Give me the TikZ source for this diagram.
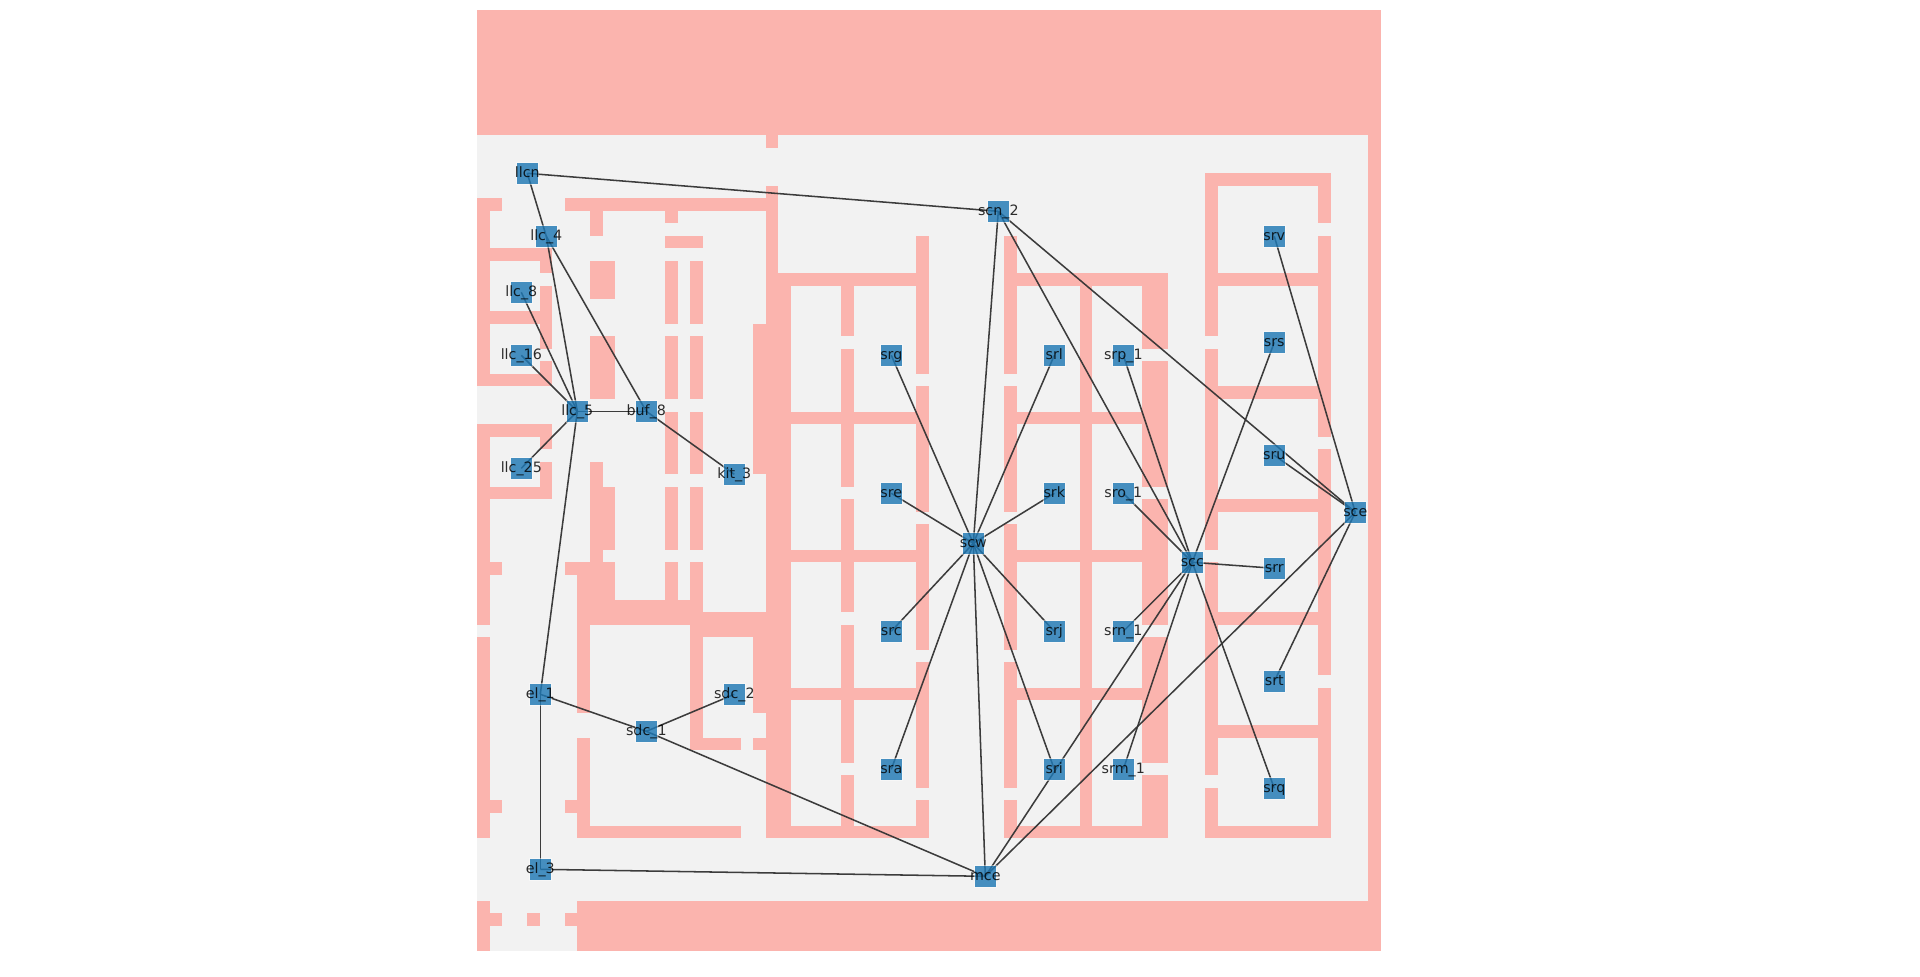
\documentclass[tikz,border=0pt]{standalone}
\usepackage{fontspec}
\setmainfont{DejaVu Sans}
\definecolor{mazepink}{HTML}{FBB4AE}
\definecolor{mazefloor}{HTML}{F2F2F2}
\definecolor{roomblue}{HTML}{1F78B4}
\pgfdeclarelayer{maze}
\pgfdeclarelayer{links}
\pgfsetlayers{maze,links,main}
\tikzset{
  room/.style={rectangle,minimum size=16pt,inner sep=0pt,fill=roomblue,fill opacity=0.82,
    draw=white,draw opacity=0.45,line width=0.5pt,text=black,text opacity=0.82,
    text height=7.3pt,text depth=1.3pt,font=\fontsize{10.7pt}{10.7pt}\selectfont},
  link/.style={color=black!80,line width=1.15pt,opacity=0.95}
}
\begin{document}
\begin{tikzpicture}[x=0.75pt,y=-0.75pt]
\useasboundingbox (0,0) rectangle (1920,976);
\begin{pgfonlayer}{maze}
\fill[mazefloor] (477,10) rectangle (1381,951);
\begin{scope}[shift={(477,10)},x=9.417pt,y=-9.41pt]
\foreach \ca/\cb/\ra/\rb in {0/71/0/9,71/71/0/74,8/71/71/74,23/23/10/10,
  0/0/15/29,0/1/15/15,0/5/19/19,5/5/19/20,5/5/22/26,0/5/24/24,5/5/28/29,0/5/29/29,
  0/0/33/48,0/5/33/33,5/5/33/34,5/5/36/38,0/5/38/38,0/1/44/44,0/0/50/65,0/1/63/63,
  0/0/71/74,0/1/72/72,4/4/72/72,7/7/72/72,
  7/23/15/15,23/23/14/65,9/9/16/17,15/15/16/16,15/17/18/18,9/10/20/22,15/15/20/24,17/17/20/24,
  9/10/26/30,15/15/26/30,17/17/26/30,15/15/32/36,17/17/32/36,15/15/38/42,17/17/38/42,
  15/15/44/47,17/17/44/47,22/22/25/36,9/9/36/44,10/10/38/42,7/10/44/44,8/10/45/47,
  8/17/47/48,17/23/48/49,8/8/49/55,17/17/49/58,22/22/50/55,17/20/58/58,22/23/58/58,
  8/8/58/65,7/8/63/63,8/20/65/65,
  24/24/21/65,23/35/21/21,24/35/32/32,24/35/43/43,24/35/54/54,23/35/65/65,
  29/29/21/25,29/29/27/37,29/29/39/47,29/29/49/59,29/29/61/65,
  35/35/18/28,35/35/30/39,35/35/41/50,35/35/52/61,35/35/63/65,
  42/42/18/28,42/42/30/39,42/42/41/50,42/42/52/61,42/42/63/65,
  42/54/21/21,42/53/32/32,42/53/43/43,42/53/54/54,42/54/65/65,48/48/21/65,
  53/54/21/26,53/54/28/37,53/54/39/48,53/54/50/59,53/54/61/65,
  58/58/13/25,58/58/27/42,58/58/44/60,58/58/62/65,58/67/13/13,
  67/67/13/16,67/67/18/33,67/67/35/52,67/67/54/65,
  58/67/21/21,58/67/30/30,58/67/39/39,58/67/48/48,58/67/57/57,58/67/65/65}
\fill[mazepink] (\ca,\ra) rectangle (\cb+1,\rb+1);
\end{scope}
\end{pgfonlayer}
\foreach \nm/\lab/\x/\y in {llcn/llcn/527.3/173.3,llc4/llc\_4/546.3/236.3,llc8/llc\_8/521.3/292.3,
  llc16/llc\_16/521.3/355.3,llc5/llc\_5/577.3/411.3,buf8/buf\_8/646.3/411.3,llc25/llc\_25/521.3/468.3,
  kit3/kit\_3/734.3/474.3,el1/el\_1/540.3/694.3,sdc2/sdc\_2/734.3/694.3,sdc1/sdc\_1/646.3/731.3,
  el3/el\_3/540.3/869.3,scn2/scn\_2/998.3/211.3,srg/srg/891.3/355.3,srl/srl/1054.3/355.3,
  sre/sre/891.3/493.3,srk/srk/1054.3/493.3,scw/scw/973.3/543.3,src/src/891.3/631.3,srj/srj/1054.3/631.3,
  sra/sra/891.3/769.3,sri/sri/1054.3/769.3,mce/mce/985.3/876.3,srp1/srp\_1/1123.3/355.3,
  srv/srv/1274.3/236.3,srs/srs/1274.3/342.3,sru/sru/1274.3/455.3,sro1/sro\_1/1123.3/493.3,
  sce/sce/1355.3/512.3,scc/scc/1192.3/562.3,srr/srr/1274.3/568.3,srn1/srn\_1/1123.3/631.3,
  srt/srt/1274.3/681.3,srm1/srm\_1/1123.3/769.3,srq/srq/1274.3/788.3}
\node[room] (\nm) at (\x,\y) {\makebox[0pt]{\lab}};
\begin{pgfonlayer}{links}
\foreach \a/\b in {llcn/scn2,llcn/llc4,llc4/llc5,llc4/buf8,llc8/llc5,llc16/llc5,llc25/llc5,llc5/buf8,
  buf8/kit3,llc5/el1,el1/el3,el1/sdc1,sdc1/sdc2,sdc1/mce,el3/mce,
  scn2/scw,scn2/scc,scn2/sce,scw/srg,scw/sre,scw/src,scw/sra,scw/mce,scw/sri,scw/srj,scw/srk,scw/srl,
  scc/srp1,scc/sro1,scc/srn1,scc/srm1,scc/srr,scc/srq,scc/srs,scc/mce,
  sce/srv,sce/sru,sce/srt,sce/mce}
\draw[link] (\a.center) -- (\b.center);
\end{pgfonlayer}
\end{tikzpicture}
\end{document}
